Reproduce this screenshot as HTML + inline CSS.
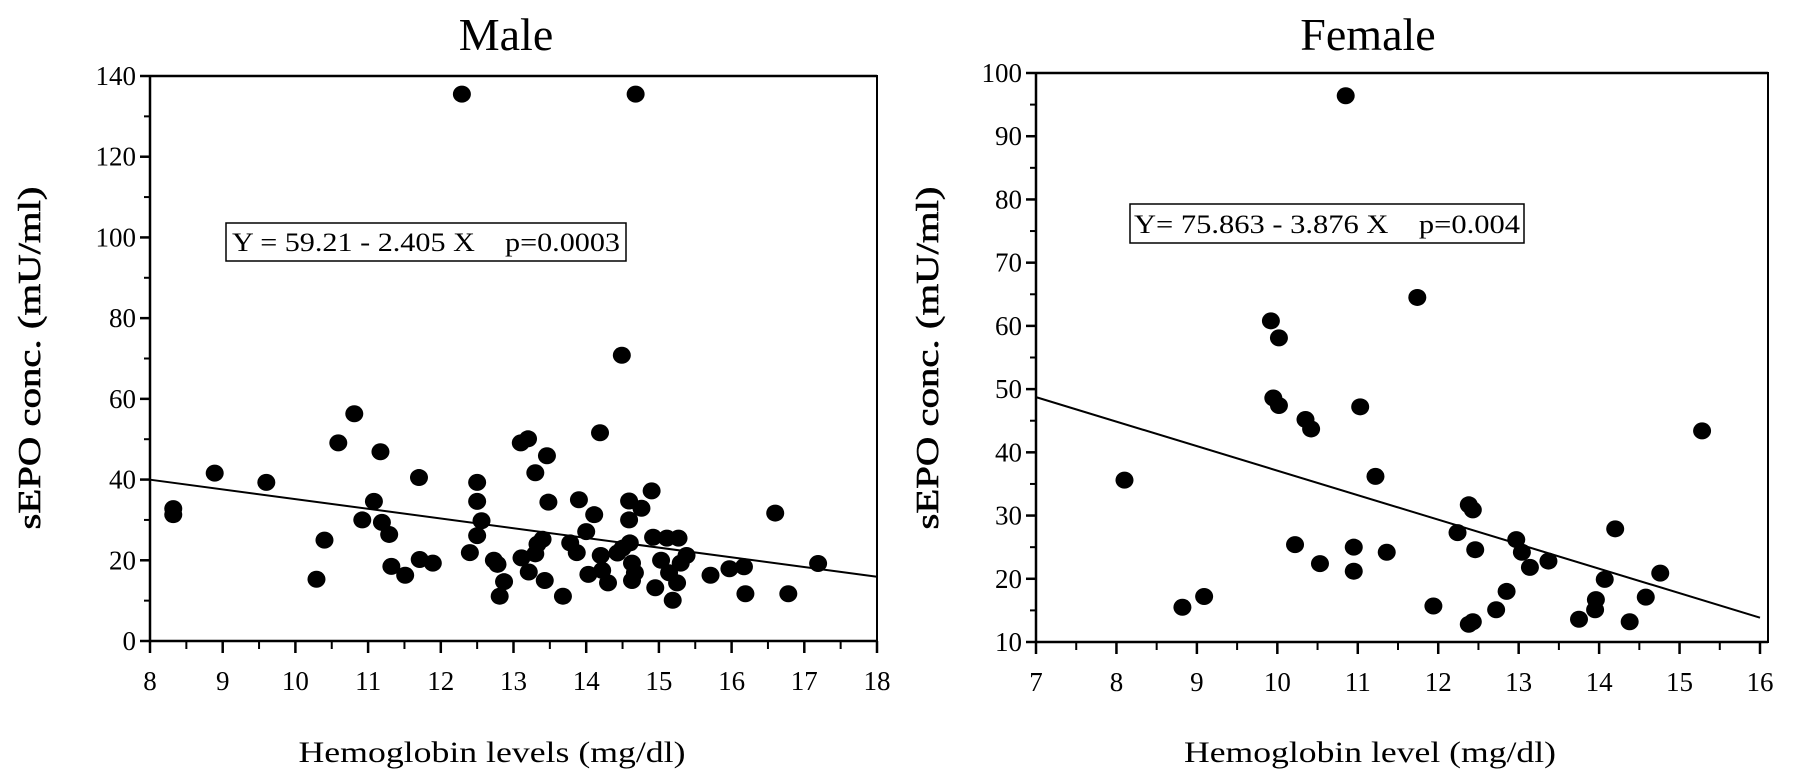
<!DOCTYPE html>
<html><head><meta charset="utf-8"><style>
html,body{margin:0;padding:0;background:#fff;}
svg{display:block;font-family:"Liberation Serif",serif;}
</style></head><body>
<svg id="c" width="1795" height="781" xmlns="http://www.w3.org/2000/svg">
<text x="506" y="50" font-size="46" text-anchor="middle">Male</text>
<text x="1368" y="50" font-size="46" text-anchor="middle">Female</text>
<text transform="translate(40,358) rotate(-90)" font-size="32" text-anchor="middle" textLength="343" lengthAdjust="spacingAndGlyphs" stroke="#000" stroke-width="0.6">sEPO conc.  (mU/ml)</text>
<text transform="translate(938,358) rotate(-90)" font-size="32" text-anchor="middle" textLength="343" lengthAdjust="spacingAndGlyphs" stroke="#000" stroke-width="0.6">sEPO conc.  (mU/ml)</text>
<text x="492" y="762" font-size="30" text-anchor="middle" textLength="387" lengthAdjust="spacingAndGlyphs">Hemoglobin levels (mg/dl)</text>
<text x="1370" y="762" font-size="30" text-anchor="middle" textLength="372" lengthAdjust="spacingAndGlyphs">Hemoglobin level (mg/dl)</text>
<g id="m"></g><g id="f"></g>
<g>
<rect x="226" y="223" width="400" height="38" fill="#fff" stroke="#000" stroke-width="1.5"/>
<text x="232" y="251" font-size="26" textLength="388" lengthAdjust="spacingAndGlyphs" xml:space="preserve">Y = 59.21 - 2.405 X    p=0.0003</text></g>
<g>
<rect x="1130" y="204" width="394" height="39" fill="#fff" stroke="#000" stroke-width="1.5"/>
<text x="1134" y="233" font-size="26" textLength="386" lengthAdjust="spacingAndGlyphs" xml:space="preserve">Y= 75.863 - 3.876 X    p=0.004</text></g>
</svg>
<script>
const maleX=[12.29,14.68,14.49,8.32,8.32,8.89,9.6,10.29,10.4,10.59,10.81,10.92,11.08,11.17,11.19,11.29,11.32,11.51,11.7,11.71,11.89,12.4,12.5,12.5,12.56,12.5,12.73,12.81,12.87,12.78,13.1,13.2,13.3,13.4,13.33,13.46,13.48,13.11,13.21,13.3,13.43,13.68,13.78,13.87,13.9,14,14.03,14.11,14.19,14.2,14.3,14.22,14.43,14.5,14.59,14.59,14.6,14.63,14.63,14.67,14.76,14.9,14.92,14.95,15.03,15.11,15.14,15.19,15.27,15.3,15.25,15.38,15.71,15.97,16.17,16.19,16.6,16.78,17.19];
const maleY=[135.5,135.5,70.8,32.8,31.3,41.6,39.3,15.3,25,49.1,56.3,30,34.6,46.9,29.4,26.4,18.5,16.3,40.5,20.2,19.3,21.9,39.3,34.6,29.8,26.1,20,11.1,14.7,19,49.1,50.1,41.7,25.2,24,45.9,34.4,20.6,17.1,21.6,15,11.1,24.3,21.9,35,27.1,16.5,31.3,51.6,21.2,14.4,17.5,21.8,23,34.7,30,24.3,19.3,15,16.9,32.9,37.2,25.7,13.2,20,25.5,16.9,10.1,25.5,19.3,14.4,21.2,16.3,17.9,18.4,11.7,31.7,11.7,19.2];
const femaleX=[10.85,11.74,9.92,10.02,9.95,10.02,11.03,10.35,10.42,15.28,8.1,11.22,12.38,12.43,14.2,12.24,12.97,10.22,10.95,13.04,11.36,12.46,10.53,10.95,13.14,13.37,14.76,14.07,12.85,9.09,8.82,11.94,14.58,12.72,13.96,13.95,13.75,14.38,12.38,12.43];
const femaleY=[96.4,64.5,60.8,58.1,48.6,47.4,47.2,45.2,43.7,43.4,35.6,36.2,31.7,30.9,27.9,27.3,26.2,25.4,25,24.2,24.2,24.6,22.4,21.2,21.8,22.8,20.9,19.9,18,17.2,15.5,15.7,17.1,15.1,16.7,15.1,13.6,13.2,12.8,13.2];
const maleXTicks=[8,9,10,11,12,13,14,15,16,17,18];
const maleYTicks=[0,20,40,60,80,100,120,140];
const femaleXTicks=[7,8,9,10,11,12,13,14,15,16];
const femaleYTicks=[10,20,30,40,50,60,70,80,90,100];
const maleFit=[59.21,-2.405];
const femaleFit=[75.863,-3.876];
const NS="http://www.w3.org/2000/svg";
function mk(p,t,a){const e=document.createElementNS(NS,t);for(const k in a)e.setAttribute(k,a[k]);p.appendChild(e);return e;}
function panel(g,cfg,xs,ys,xt,yt,fit,pfx){
  const sx=v=>cfg.x0+(v-cfg.xmin)/(cfg.xmax-cfg.xmin)*(cfg.x1-cfg.x0);
  const sy=v=>cfg.y0-(v-cfg.ymin)/(cfg.ymax-cfg.ymin)*(cfg.y0-cfg.y1);
  const frame=mk(g,'path',{d:`M${cfg.x0},${cfg.y1}H${cfg.xr}V${cfg.y0}H${cfg.x0}Z`,fill:'none',stroke:'#000','stroke-width':2});
  
  
  mk(g,'line',{x1:cfg.x0,y1:cfg.y1,x2:cfg.xr,y2:cfg.y1,stroke:'#000','stroke-width':2.5});
  mk(g,'line',{x1:cfg.x0,y1:cfg.y0,x2:cfg.xr,y2:cfg.y0,stroke:'#000','stroke-width':2.5});
  mk(g,'line',{x1:cfg.x0,y1:cfg.y1,x2:cfg.x0,y2:cfg.y0,stroke:'#000','stroke-width':2.5});
  xt.forEach((v,i)=>{const x=sx(v);
    mk(g,'line',{x1:x,y1:cfg.y0,x2:x,y2:cfg.y0+12,stroke:'#000','stroke-width':2.5});
    if(i<xt.length-1){const xm=sx(v+0.5);mk(g,'line',{x1:xm,y1:cfg.y0,x2:xm,y2:cfg.y0+8,stroke:'#000','stroke-width':2});}
    const t=mk(g,'text',{x:x,y:cfg.y0+49,'font-size':27,'text-anchor':'middle'});t.textContent=v;
    
    });
  yt.forEach((v,i)=>{const y=sy(v);
    mk(g,'line',{x1:cfg.x0-10,y1:y,x2:cfg.x0,y2:y,stroke:'#000','stroke-width':2.5});
    if(i<yt.length-1){const ym=sy(v+(yt[1]-yt[0])/2);mk(g,'line',{x1:cfg.x0-6,y1:ym,x2:cfg.x0,y2:ym,stroke:'#000','stroke-width':2});}
    const t=mk(g,'text',{x:cfg.x0-14,y:y+9,'font-size':27,'text-anchor':'end'});t.textContent=v;
    
    });
  const l=mk(g,'line',{x1:sx(cfg.xmin),y1:sy(fit[0]+fit[1]*cfg.xmin),x2:sx(cfg.xmax),y2:sy(fit[0]+fit[1]*cfg.xmax),stroke:'#000','stroke-width':2});
  
  
  xs.forEach((v,i)=>{const c=mk(g,'ellipse',{cx:sx(v),cy:sy(ys[i]),rx:9,ry:8.5,fill:'#000'});
    
    });
}
panel(document.getElementById('m'),{x0:150,x1:877,xr:877,xmin:8,xmax:18,y0:641,y1:76,ymin:0,ymax:140},maleX,maleY,maleXTicks,maleYTicks,maleFit,'male');
panel(document.getElementById('f'),{x0:1036,x1:1760,xr:1768,xmin:7,xmax:16,y0:642,y1:73,ymin:10,ymax:100},femaleX,femaleY,femaleXTicks,femaleYTicks,femaleFit,'female');
</script>
</body></html>
